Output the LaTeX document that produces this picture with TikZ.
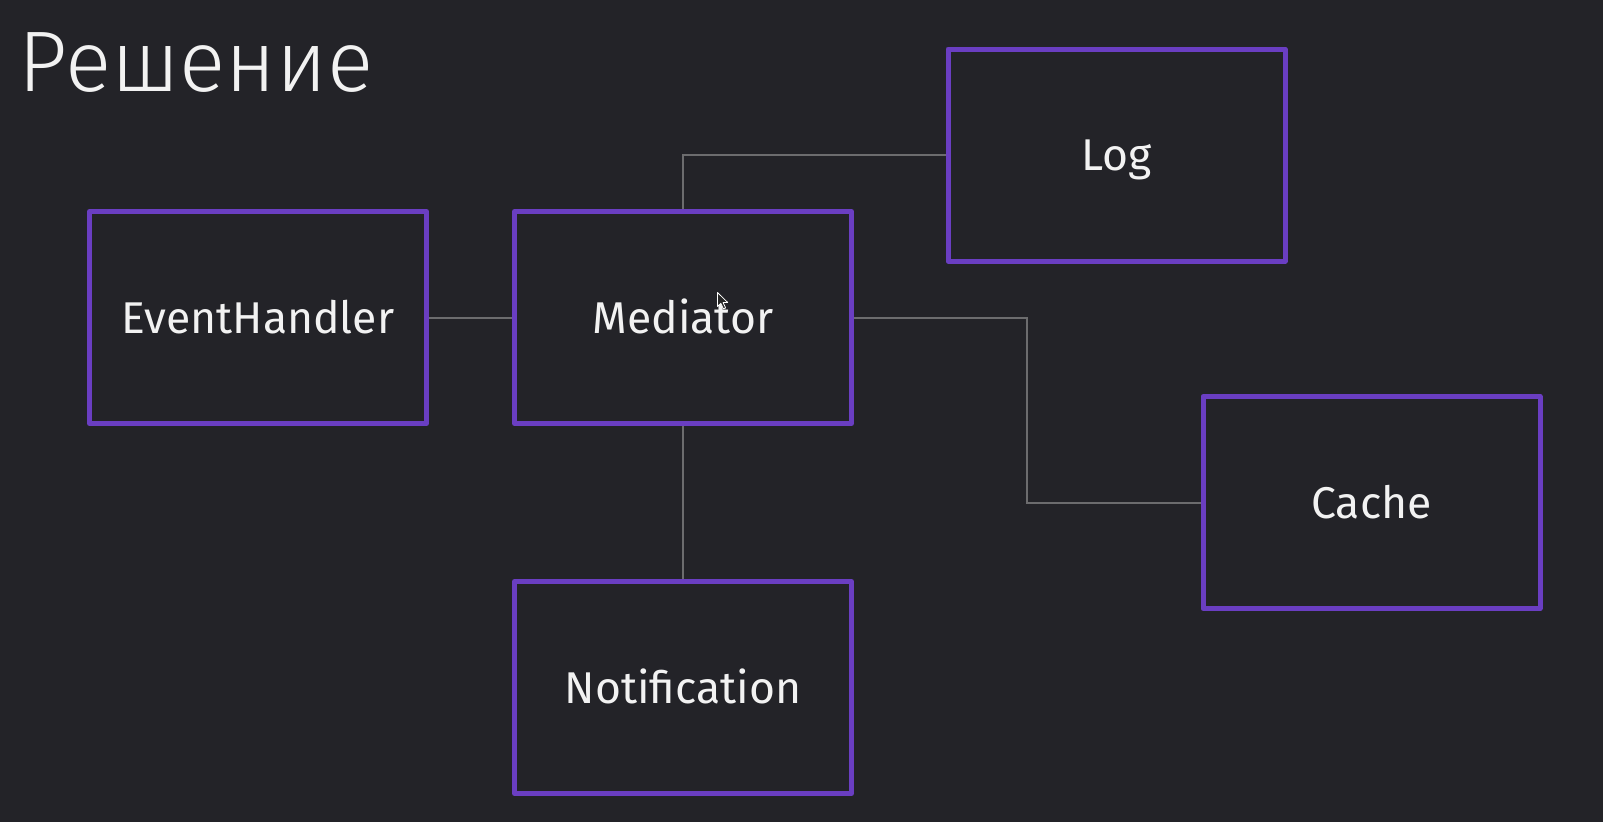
\documentclass[tikz,border=0pt]{standalone}
\usepackage{fontspec}
\usetikzlibrary{backgrounds}
\setmainfont{Fira Sans}
\newfontfamily\titlefont{Fira Sans Light}
\definecolor{bg}{HTML}{232328}
\definecolor{boxpurple}{HTML}{6A3EC2}
\definecolor{wire}{HTML}{6C6C6E}
\definecolor{txt}{HTML}{F2F2F2}
\tikzset{
  compbox/.style={draw=boxpurple, line width=5pt, fill=bg, rectangle,
    minimum width=337pt, minimum height=212pt, inner sep=0pt,
    line join=round, text=txt, font=\fontsize{44.5}{50}\selectfont,
    text height=31pt, text depth=0pt},
  wireline/.style={draw=wire, line width=2pt}
}
\begin{document}
\begin{tikzpicture}[x=1pt,y=-1pt]
\useasboundingbox (0,0) rectangle (1603,822);
\node[anchor=base west, inner sep=0pt, text=txt, font=\titlefont\fontsize{86}{96}\selectfont] (title) at (18.5,91) {Решение};
\node[compbox] (eh) at (258,317.5) {EventHandler};
\node[compbox] (med) at (683,317.5) {Mediator};
\node[compbox] (log) at (1116.5,155) {Log};
\node[compbox] (cache) at (1371.5,502.5) {Cache};
\node[compbox] (notif) at (683,687.5) {Notification};
\coordinate (bend) at (1027,317.5);
\begin{scope}[on background layer]
  \fill[bg] (0,0) rectangle (1603,822);
  \draw[wireline] (eh.east) -- (med.west);
  \draw[wireline] (med.north) |- (log.west);
  \draw[wireline] (med.east) -- (bend) |- (cache.west);
  \draw[wireline] (med.south) -- (notif.north);
\end{scope}
% mouse cursor
\filldraw[fill=black!85, draw=white!80, line width=0.8pt, line join=round]
  (717.5,292.5) -- ++(0,14) -- ++(3.3,-3.2) -- ++(2.6,5.6) -- ++(2.2,-1) -- ++(-2.5,-5.4) -- ++(4.6,0) -- cycle;
\end{tikzpicture}
\end{document}
